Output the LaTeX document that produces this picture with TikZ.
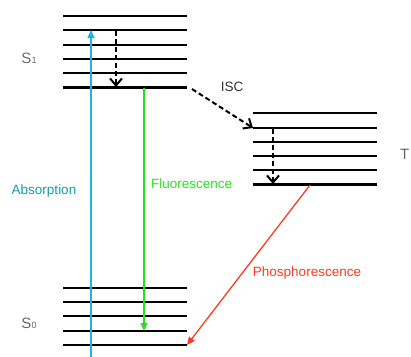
\documentclass[tikz,border=0pt]{standalone}
\usepackage{fontspec}
\setmainfont{Liberation Sans}
\usetikzlibrary{arrows.meta}
\definecolor{abscol}{RGB}{30,180,225}
\definecolor{abstext}{RGB}{20,155,165}
\definecolor{fluocol}{RGB}{40,225,30}
\definecolor{phoscol}{RGB}{250,60,30}
\definecolor{lblgray}{RGB}{105,105,105}
\begin{document}
\begin{tikzpicture}[x=1pt,y=-1pt,
  level/.style={line width=1.3pt,black},
  ground/.style={line width=3pt,black},
  relax/.style={line width=2pt,dash pattern=on 5pt off 3pt,-{Straight Barb[length=7pt,width=12pt,line width=2pt]}},
  lbl/.style={font=\fontsize{13.5}{14}\selectfont,inner sep=0pt},
  statelbl/.style={font=\fontsize{15}{15}\selectfont,text=lblgray,inner sep=0pt}]
\useasboundingbox (0,0) rectangle (411,356);
\begin{scope}
\clip (0,0) rectangle (411,356);
% S1 levels
\foreach \y in {16,30,45,59,73} \draw[level] (63,\y) -- (187,\y);
\draw[ground] (63,87) -- (187,87);
% T levels
\foreach \y in {113,142,156,170} \draw[level] (253,\y) -- (377,\y);
\draw[level] (253,128) coordinate (t2L) -- (377,128);
\draw[ground] (253,184) -- (377,184);
% S0 levels
\foreach \y in {288,302,316,331} \draw[level] (63,\y) -- (187,\y);
\draw[level] (63,345) -- (187,345) coordinate (s0R);
% coordinates
\coordinate (absS) at (91,360);
\coordinate (absE) at (91,30);
\coordinate (vr1s) at (116,31);
\coordinate (vr1e) at (116,87);
\coordinate (vr2s) at (273,129);
\coordinate (vr2e) at (273,184);
\coordinate (iscS) at (192,89);
\coordinate (fluS) at (144,88);
\coordinate (fluE) at (144,331);
\coordinate (phoS) at (310,185);
% arrows
\draw[abscol,line width=1.5pt,-{Triangle[length=8pt,width=7pt]}] (absS) -- (absE);
\draw[relax] (vr1s) -- (vr1e);
\draw[relax] (vr2s) -- (vr2e);
\draw[relax] (iscS) -- (t2L);
\draw[fluocol,line width=1.5pt,-{Triangle[length=8pt,width=7pt]}] (fluS) -- (fluE);
\draw[phoscol,line width=1.3pt,-{Triangle[length=8pt,width=7pt]}] (phoS) -- (s0R);
% labels
\node[lbl,text=abstext] (absl) at (44,191) {Absorption};
\node[lbl,text=fluocol,anchor=west] (flul) at (151,184) {Fluorescence};
\node[lbl,text=phoscol] (phol) at (307,273) {Phosphorescence};
\node[lbl,text=black!80] (isc) at (232,87) {ISC};
\node[statelbl] (s1) at (29,58) {S{\fontsize{9}{9}\selectfont 1}};
\node[statelbl] (s0) at (29,323) {S{\fontsize{9}{9}\selectfont 0}};
\node[statelbl,anchor=west] (t1) at (400,154) {T};
\end{scope}
\end{tikzpicture}
\end{document}
